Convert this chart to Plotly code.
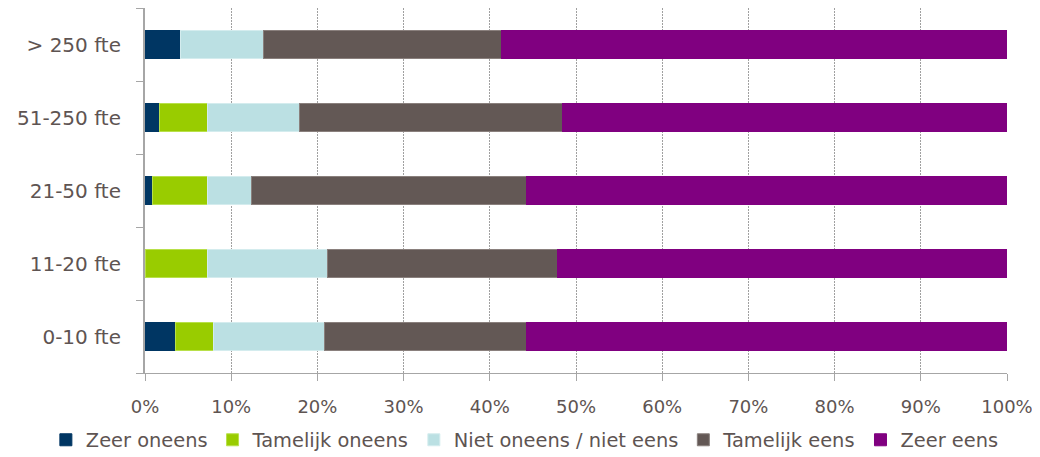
import plotly.graph_objects as go

categories = ["0-10 fte", "11-20 fte", "21-50 fte", "51-250 fte", "> 250 fte"]
series_names = ["Zeer oneens", "Tamelijk oneens", "Niet oneens / niet eens", "Tamelijk eens", "Zeer eens"]
zeer_oneens = [3.5, 0.0, 0.9, 1.7, 4.1]
tamelijk_oneens = [4.5, 7.2, 6.3, 5.5, 0.0]
niet_oneens_niet_eens = [12.8, 14.0, 5.1, 10.7, 9.7]
tamelijk_eens = [23.5, 26.6, 32.0, 30.5, 27.5]
zeer_eens = [55.7, 52.2, 55.7, 51.6, 58.7]
colors = ["#003663", "#99cc00", "#bbe0e3", "#635855", "#800080"]
edge_colors = ["#003663", "#b8e04a", "#d4ecee", "#8a807d", "#800080"]
tick_vals = [0, 10, 20, 30, 40, 50, 60, 70, 80, 90, 100]
tick_text = ["0%", "10%", "20%", "30%", "40%", "50%", "60%", "70%", "80%", "90%", "100%"]

series_values = [zeer_oneens, tamelijk_oneens, niet_oneens_niet_eens, tamelijk_eens, zeer_eens]

fig = go.Figure()
for name, vals, col, ecol in zip(series_names, series_values, colors, edge_colors):
    fig.add_trace(go.Bar(
        y=categories, x=vals, name=name, orientation="h",
        marker=dict(color=col, line=dict(color=ecol, width=1)),
    ))

text_color = "#5e5452"
# the page body adds an 8px offset; margins compensate for it
fig.update_layout(
    barmode="stack",
    bargap=0.62,
    width=1040, height=457,
    margin=dict(l=137, r=41, t=0, b=92),
    paper_bgcolor="white", plot_bgcolor="white",
    font=dict(family="DejaVu Sans", size=20, color=text_color),
    legend=dict(
        orientation="h", xref="paper", yref="paper",
        x=-0.115, xanchor="left", y=-0.184, yanchor="middle",
        font=dict(size=19.4, color=text_color),
        traceorder="normal", itemwidth=30,
    ),
    xaxis=dict(
        range=[0, 100], tickvals=tick_vals, ticktext=tick_text,
        tickfont=dict(size=18),
        showgrid=True, gridcolor="#a0a0a0", griddash="2px,1px", gridwidth=1,
        showline=True, linecolor="#a6a6a6", linewidth=1,
        ticks="outside", ticklen=7, tickcolor="#a6a6a6",
        ticklabelstandoff=10,
        zeroline=False, fixedrange=True,
    ),
    yaxis=dict(
        type="category", categoryorder="array", categoryarray=categories,
        tickfont=dict(size=20),
        showline=True, linecolor="#a6a6a6", linewidth=2,
        ticks="outside", ticklen=7, tickcolor="#a6a6a6", tickson="boundaries",
        ticklabelstandoff=18, showgrid=False,
    ),
)

fig.write_html("out.html")
